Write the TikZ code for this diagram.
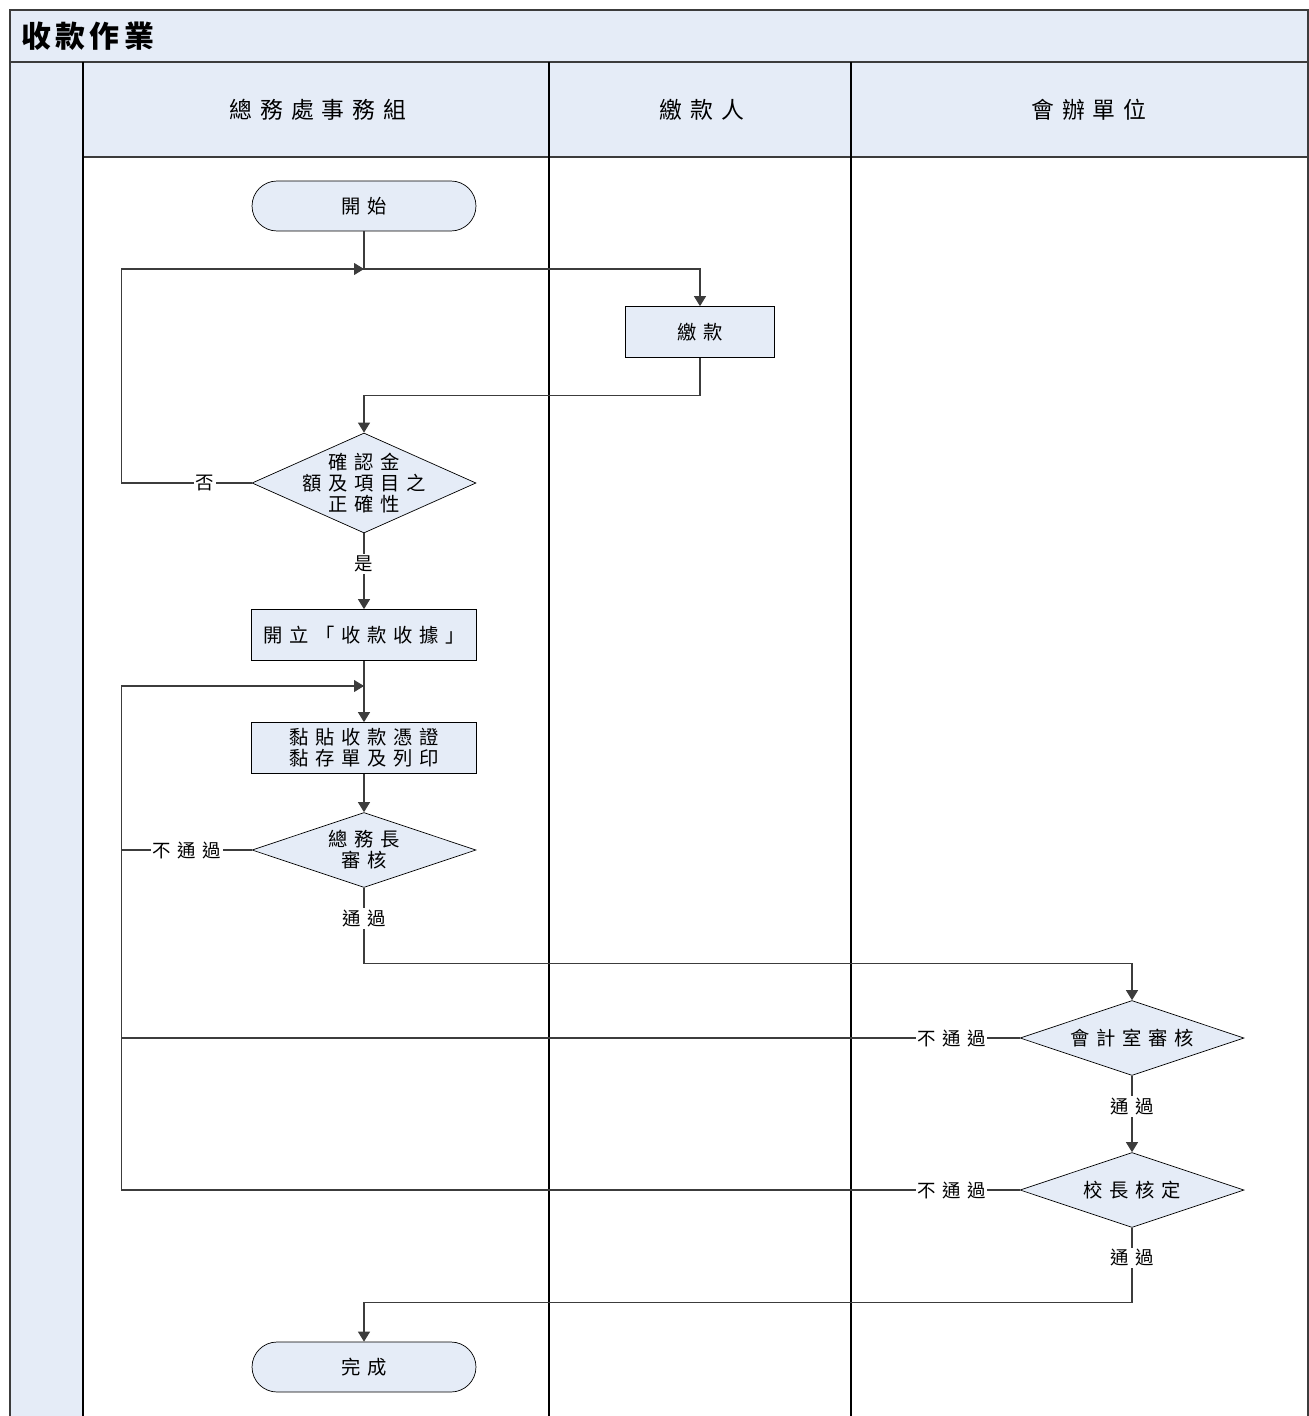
\documentclass[tikz,border=0pt]{standalone}
\usepackage{fontspec}
\newfontfamily\cjk[LetterSpace=35]{Noto Sans CJK TC}
\newfontfamily\cjktitle[LetterSpace=15]{Noto Sans CJK TC}
\usetikzlibrary{shapes.geometric,arrows.meta}
\definecolor{paleblue}{RGB}{229,236,247}
\definecolor{linegray}{RGB}{60,60,60}
\tikzset{
  term/.style={draw, rectangle, rounded corners=0.5cm, fill=paleblue, minimum width=4.48cm, minimum height=1cm, font=\cjk\fontsize{11}{12}\selectfont},
  proc/.style={draw, rectangle, fill=paleblue, minimum width=4.5cm, minimum height=1.02cm, align=center, font=\cjk\fontsize{11}{12}\selectfont},
  decide/.style={draw, diamond, fill=paleblue, inner sep=0pt, minimum width=4.48cm, minimum height=1.5cm},
  dtext/.style={align=center, font=\cjk\fontsize{11}{12}\selectfont},
  lbl/.style={fill=white, inner sep=1pt, font=\cjk\fontsize{10.5}{12}\selectfont},
  conn/.style={draw=linegray, line width=0.6pt},
  lane/.style={draw=black, line width=1.1pt},
}
\begin{document}
\begin{tikzpicture}[x=0.02cm, y=-0.02cm, >={Triangle[length=0.2cm,width=0.24cm]}]
    \useasboundingbox (0,0) rectangle (1308,1416);

    % swimlane frame
    \fill[paleblue] (10,10) rectangle (1308,62);
    \fill[paleblue] (10,62) rectangle (83,1416);
    \fill[paleblue] (83,62) rectangle (1308,157);
    \draw[draw=linegray, line width=0.6pt] (10,1416) -- (10,10) -- (1308,10) -- (1308,1416);
    \draw[draw=linegray, line width=0.6pt] (10,62) -- (1308,62);
    \draw[draw=linegray, line width=0.6pt] (83,157) -- (1308,157);
    \draw[lane] (83,62) -- (83,1416);
    \draw[lane] (549,62) -- (549,1416);
    \draw[lane] (851,62) -- (851,1416);

    \node (title) [anchor=west, font=\cjktitle\bfseries\fontsize{17}{20}\selectfont] at (15,36) {收款作業};
    \node (h1) [font=\cjk\fontsize{13}{15}\selectfont] at (318,110) {總務處事務組};
    \node (h2) [font=\cjk\fontsize{13}{15}\selectfont] at (702,110) {繳款人};
    \node (h3) [font=\cjk\fontsize{13}{15}\selectfont] at (1089,110) {會辦單位};

    % flow
    \node (start) [term] at (364,206) {開始};
    \coordinate (j1) at (364,269);
    \node (pay) [proc, minimum width=2.98cm] at (700,332) {繳款};
    \node (d1) [decide, minimum height=2cm, label={[dtext]center:確認金\\額及項目之\\正確性}] at (364,483) {};
    \node (open) [proc] at (364,635) {開立「收款收據」};
    \coordinate (j2) at (364,686);
    \node (stick) [proc] at (364,748) {黏貼收款憑證\\黏存單及列印};
    \node (d2) [decide, label={[dtext]center:總務長\\審核}] at (364,850) {};
    \node (d3) [decide, label={[dtext]center:會計室審核}] at (1132,1038) {};
    \node (d4) [decide, label={[dtext]center:校長核定}] at (1132,1190) {};
    \node (done) [term] at (364,1367) {完成};

    \draw[conn, ->] (start) -- (j1) -| (pay);
    \draw[conn, ->] (pay.south) -- ++(0,38) -| (d1);
    \draw[conn, ->] (d1.west) -- node[lbl, pos=0.36]{否} ++(-130,0) |- (j1);
    \draw[conn, ->] (d1) -- node[lbl, pos=0.4]{是} (open);
    \draw[conn, ->] (open) -- (stick);
    \draw[conn, ->] (stick) -- (d2);
    \draw[conn] (d2.west) -- node[lbl, pos=0.5]{不通過} ++(-130,0);
    \draw[conn, ->] (d2.south) -- node[lbl, pos=0.4]{通過} ++(0,76) -| (d3.north);
    \draw[conn] (d3.west) -- node[lbl, pos=0.076]{不通過} ++(-898,0);
    \draw[conn, ->] (d3) -- node[lbl, pos=0.4]{通過} (d4);
    \draw[conn, ->] (d4.west) -- node[lbl, pos=0.076]{不通過} ++(-898,0) |- (j2);
    \draw[conn, ->] (d4.south) -- node[lbl, pos=0.4]{通過} ++(0,75) -| (done.north);
\end{tikzpicture}
\end{document}
